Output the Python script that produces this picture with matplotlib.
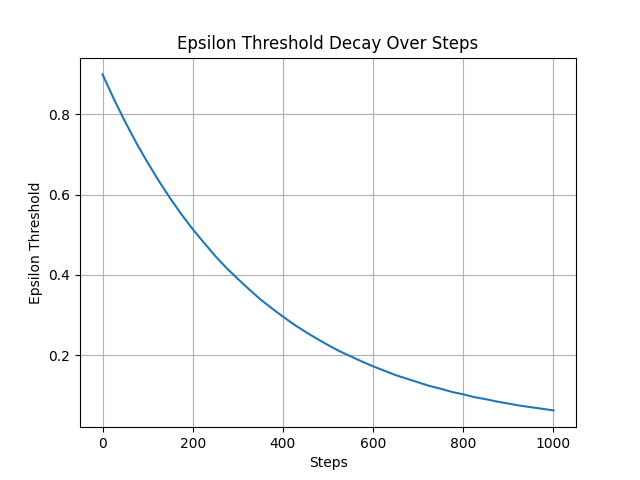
import matplotlib
matplotlib.use('Agg')
import matplotlib.pyplot as plt

# Steps (every 25) and epsilon values
steps = list(range(0, 1001, 25))
eps_threshold = [0.900, 0.839, 0.782, 0.729, 0.680, 0.634, 0.591, 0.551, 0.514, 0.480,
                 0.447, 0.417, 0.390, 0.364, 0.339, 0.317, 0.296, 0.276, 0.258, 0.241,
                 0.225, 0.210, 0.197, 0.184, 0.172, 0.161, 0.150, 0.141, 0.132, 0.123,
                 0.116, 0.108, 0.102, 0.095, 0.090, 0.084, 0.079, 0.074, 0.070, 0.066,
                 0.062]

plt.figure(figsize=(6.4, 4.8), dpi=100)
plt.plot(steps, eps_threshold)
plt.title('Epsilon Threshold Decay Over Steps')
plt.xlabel('Steps')
plt.ylabel('Epsilon Threshold')
plt.grid(True)
plt.savefig('out.png')
